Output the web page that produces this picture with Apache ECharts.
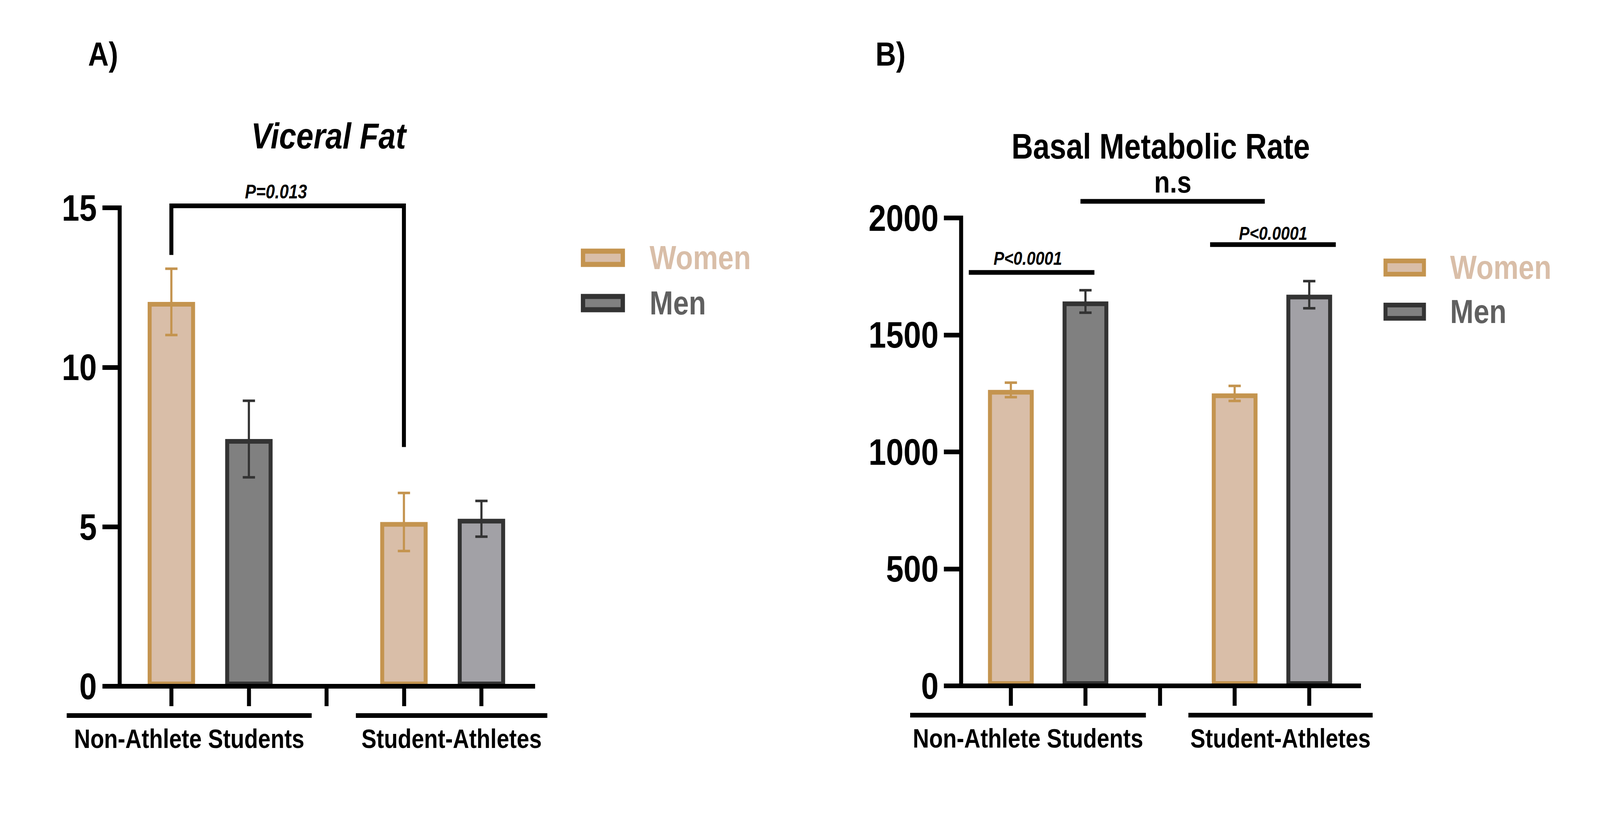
<!DOCTYPE html>
<html>
<head>
<meta charset="utf-8">
<title>Viceral Fat / Basal Metabolic Rate</title>
<script src="https://cdn.jsdelivr.net/npm/echarts@6/dist/echarts.min.js"></script>
<style>
  html, body { margin: 0; padding: 0; background: #fff; overflow: hidden; }
  #chart { width: 4826px; height: 2102px; transform-origin: 0 0; }
</style>
</head>
<body>
<div id="chart"></div>
<script>
(function (echarts) {
  "use strict";

  var FONT = '"Liberation Sans", Arial, Helvetica, sans-serif';
  var PAGE_W = 4826, PAGE_H = 2102;

  // x slots: women, men, (empty gap), women, men
  var groups = ['Non-Athlete Students', 'Student-Athletes'];
  var groupSpans = [[-1.35, 1.81], [2.38, 4.85]];
  var tickSlots = [0, 1, 2, 3, 4];
  var womenSlots = [0, 3];
  var menSlots = [1, 4];

  // panel A - visceral fat, mean and error
  var fatWomen = [12.05, 5.15];
  var fatWomenErr = [1.04, 0.91];
  var fatMen = [7.75, 5.25];
  var fatMenErr = [1.2, 0.56];
  var fatBracket = [[0, 13.52], [0, 15.06], [3, 15.06], [3, 7.5]];
  var fatNotes = [{ text: 'P=0.013', at: [1.35, 15.5] }];

  // panel B - basal metabolic rate, mean and error
  var bmrWomen = [1265, 1250];
  var bmrWomenErr = [31, 32];
  var bmrMen = [1643, 1672];
  var bmrMenErr = [48, 58];
  var bmrLines = [
    [[-0.564, 1767], [1.12, 1767]],
    [[2.671, 1886], [4.356, 1886]],
    [[0.933, 2071], [3.404, 2071]]
  ];
  var bmrNotes = [
    { text: 'P<0.0001', at: [0.227, 1828] },
    { text: 'P<0.0001', at: [3.516, 1935] },
    { text: 'n.s', at: [2.17, 2153], size: 78, upright: true }
  ];

  var womenFill = '#D9BEA8', womenEdge = '#C4944F';
  var menFill = ['#808080', '#A2A1A6'], menEdge = '#333333';

  // the window may be narrower than the figure: squeeze the figure to fit it
  var box = document.getElementById('chart');
  var sx = Math.min(1, window.innerWidth / PAGE_W);
  var sy = Math.min(1, window.innerHeight / PAGE_H);
  box.style.transform = 'scale(' + sx + ',' + sy + ')';

  var chart = echarts.init(box, null, { renderer: 'svg' });

  function xAxisFor(grid) {
    return {
      type: 'value', gridIndex: grid, min: -2 / 3, max: 14 / 3, z: 5,
      splitLine: { show: false },
      axisLine: { onZero: false, lineStyle: { color: '#000', width: 12, cap: 'square' } },
      axisTick: { customValues: tickSlots, length: 51, lineStyle: { color: '#000', width: 12 } },
      axisLabel: { show: false, customValues: tickSlots }
    };
  }

  function yAxisFor(grid, max, step, margin) {
    return {
      type: 'value', gridIndex: grid, min: 0, max: max, interval: step, z: 5,
      splitLine: { show: false },
      axisLine: { show: true, onZero: false, lineStyle: { color: '#000', width: 12, cap: 'square' } },
      axisTick: { show: true, length: 52, lineStyle: { color: '#000', width: 12 } },
      axisLabel: {
        margin: margin, color: '#000', fontSize: 95, fontWeight: 'bold', fontFamily: FONT,
        formatter: function (v) { return String(v); }
      }
    };
  }

  function errorSeries(grid, slots, means, errs, color) {
    return {
      type: 'custom', xAxisIndex: grid, yAxisIndex: grid, z: 4, silent: true,
      data: slots.map(function (s, i) { return [s, means[i], errs[i]]; }),
      renderItem: function (params, api) {
        var x = api.value(0), m = api.value(1), e = api.value(2);
        var hi = api.coord([x, m + e]), lo = api.coord([x, m - e]);
        var st = { stroke: color, lineWidth: 6.5 };
        return {
          type: 'group',
          children: [
            { type: 'line', shape: { x1: hi[0], y1: hi[1], x2: lo[0], y2: lo[1] }, style: st },
            { type: 'line', shape: { x1: hi[0] - 18.5, y1: hi[1], x2: hi[0] + 18.5, y2: hi[1] }, style: st },
            { type: 'line', shape: { x1: lo[0] - 18.5, y1: lo[1], x2: lo[0] + 18.5, y2: lo[1] }, style: st }
          ]
        };
      }
    };
  }

  function panelSeries(grid, women, womenErr, men, menErr, barWidth) {
    return [
      {
        name: 'Women', type: 'bar', xAxisIndex: grid, yAxisIndex: grid,
        barWidth: barWidth, barGap: '-100%', z: 2,
        itemStyle: { color: womenFill, borderColor: womenEdge, borderWidth: 12 },
        data: womenSlots.map(function (s, i) { return [s, women[i]]; })
      },
      {
        name: 'Men', type: 'bar', xAxisIndex: grid, yAxisIndex: grid,
        barWidth: barWidth, barGap: '-100%', z: 2,
        itemStyle: { color: menFill[0], borderColor: menEdge, borderWidth: 12 },
        data: menSlots.map(function (s, i) {
          return { value: [s, men[i]], itemStyle: { color: menFill[i] } };
        })
      },
      errorSeries(grid, womenSlots, women, womenErr, womenEdge),
      errorSeries(grid, menSlots, men, menErr, menEdge)
    ];
  }

  function lineSeries(grid, points) {
    return {
      type: 'line', xAxisIndex: grid, yAxisIndex: grid, data: points,
      symbol: 'none', clip: false, silent: true, z: 6,
      lineStyle: { color: '#000', width: 12, cap: 'butt', join: 'miter' }
    };
  }

  function legendFor(left, top, gap, iconW, border, textPad) {
    return {
      orient: 'vertical', left: left, top: top, itemGap: gap,
      itemWidth: iconW, itemHeight: 34, icon: 'rect', selectedMode: false,
      itemStyle: { borderWidth: border },
      textStyle: { fontSize: 85, fontWeight: 'bold', fontFamily: FONT, lineHeight: 86, padding: [0, 0, 0, textPad] },
      data: [
        { name: 'Women', textStyle: { color: '#D9BEA8' } },
        { name: 'Men', textStyle: { color: '#606060' } }
      ]
    };
  }

  var series = []
    .concat(panelSeries(0, fatWomen, fatWomenErr, fatMen, fatMenErr, 143))
    .concat(panelSeries(1, bmrWomen, bmrWomenErr, bmrMen, bmrMenErr, 138))
    .concat([lineSeries(0, fatBracket)])
    .concat(bmrLines.map(function (pts) { return lineSeries(1, pts); }));

  chart.setOption({
    animation: false,
    backgroundColor: '#fff',
    grid: [
      { left: 361, top: 532, width: 1247, height: 1225 },
      { left: 2899, top: 558, width: 1200, height: 1198 }
    ],
    xAxis: [xAxisFor(0), xAxisFor(1)],
    yAxis: [yAxisFor(0, 15, 5, 69), yAxisFor(1, 2000, 500, 68)],
    legend: [
      legendFor(1747, 612, 30, 120, 13, 76),
      legendFor(4168, 637, 27, 116, 12, 74)
    ],
    series: series
  });

  function textEl(text, x, y, size, italic) {
    var font = (italic ? 'italic ' : '') + 'bold ' + size + 'px ' + FONT;
    return {
      type: 'text', x: x, y: y, silent: true, z: 10,
      style: {
        text: text, fill: '#000', font: font,
        align: 'center', verticalAlign: 'middle',
        textAlign: 'center', textVerticalAlign: 'middle'
      }
    };
  }

  function px(grid, x, y) {
    return chart.convertToPixel({ gridIndex: grid }, [x, y]);
  }

  var graphics = [
    textEl('A)', 311, 138, 86, false),
    textEl('B)', 2686, 138, 86, false),
    textEl('Viceral Fat', 991, 348, 93, true),
    textEl('Basal Metabolic Rate', 3501, 375, 90, false)
  ];

  [0, 1].forEach(function (g) {
    var base = px(g, 0, 0)[1];
    groups.forEach(function (name, i) {
      var a = px(g, groupSpans[i][0], 0)[0];
      var b = px(g, groupSpans[i][1], 0)[0];
      graphics.push({
        type: 'line', silent: true,
        shape: { x1: a, y1: base + 75, x2: b, y2: base + 75 },
        style: { stroke: '#000', lineWidth: 12 }
      });
      graphics.push(textEl(name, (a + b) / 2, base + 134, 68, false));
    });
  });

  fatNotes.forEach(function (n) {
    var p = px(0, n.at[0], n.at[1]);
    graphics.push(textEl(n.text, p[0], p[1], 50, true));
  });
  bmrNotes.forEach(function (n) {
    var p = px(1, n.at[0], n.at[1]);
    graphics.push(textEl(n.text, p[0], p[1], n.size || 48, !n.upright));
  });

  chart.setOption({ graphic: graphics });
})(echarts);
</script>
</body>
</html>
